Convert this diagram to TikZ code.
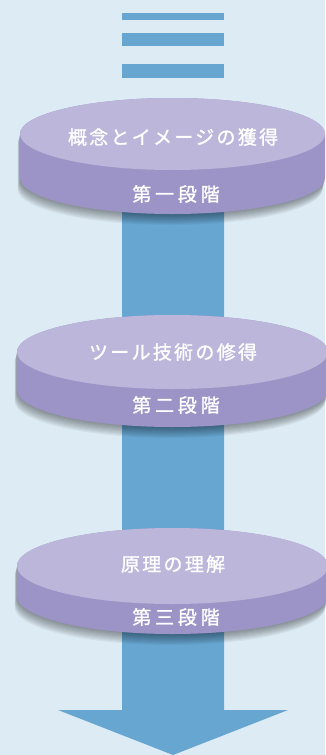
\documentclass[tikz,border=0pt]{standalone}
\usepackage{fontspec}
\newfontfamily\cjk[FakeBold=1.2]{Noto Sans CJK JP}
\definecolor{bgc}{HTML}{DDEBF4}
\definecolor{barc}{HTML}{67A6D1}
\definecolor{topc}{HTML}{BBB6DA}
\definecolor{sidec}{HTML}{9C94C7}
\tikzset{
  barfill/.style={fill=barc, draw=none},
  sidefill/.style={fill=sidec, draw=none},
  shadowfill/.style={fill=black, fill opacity=0.045, draw=none},
  topfill/.style={fill=topc, draw=none},
  titletext/.style={text=white, inner sep=0pt, anchor=center,
    font=\cjk\addfontfeatures{LetterSpace=12}\fontsize{19}{19}\selectfont},
  stagetext/.style={text=white, inner sep=0pt, anchor=center,
    font=\cjk\addfontfeatures{LetterSpace=20}\fontsize{19}{19}\selectfont},
}
% silhouette of a disk: #1 cy, #2 rx, #3 ry, #4 h
\newcommand{\disksil}[4]{%
  (172.5-#2,#1) -- (172.5-#2,#1+#4)
    arc[start angle=180, end angle=360, x radius=#2pt, y radius=#3pt]
    -- (172.5+#2,#1)
    arc[start angle=0, end angle=180, x radius=#2pt, y radius=#3pt] -- cycle}
% #1 name, #2 cy, #3 rx, #4 ry, #5 h, #6 title, #7 y of stage, #8 stage, #9 y of title
\newcommand{\stagedisk}[9]{%
  \foreach \k in {1,...,10}{%
    \path[shadowfill, shift={(-0.25*\k,1.1*\k)}] \disksil{#2}{#3}{#4}{#5};
  }
  \path[sidefill] \disksil{#2}{#3}{#4}{#5};
  \path[topfill] (172.5,#2) ellipse[x radius=#3pt, y radius=#4pt];
  \node[titletext] (#1-title) at (173,#9) {#6};
  \node[stagetext] (#1-stage) at (176,#7) {#8};
}
\begin{document}
\begin{tikzpicture}[x=1pt, y=-1pt]
  \fill[bgc] (0,0) rectangle (325,755);
  \useasboundingbox (0,0) rectangle (325,755);
  % top bars
  \fill[barfill] (122,13) rectangle (224,20);
  \fill[barfill] (122,33) rectangle (224,46);
  \fill[barfill] (122,64) rectangle (224,78);
  % shaft and arrow head
  \fill[barfill] (122,150) -- (224,150) -- (224,710) -- (288,710)
     -- (173,755) -- (58,710) -- (122,710) -- cycle;
  % disks
  \stagedisk{s1}{134}{152.5}{36}{44}{概念とイメージの獲得}{194}{第一段階}{137}
  \stagedisk{s2}{352}{155.5}{37}{38}{ツール技術の修得}{405}{第二段階}{352}
  \stagedisk{s3}{566}{155.5}{38}{30}{原理の理解}{617}{第三段階}{564}
\end{tikzpicture}
\end{document}
